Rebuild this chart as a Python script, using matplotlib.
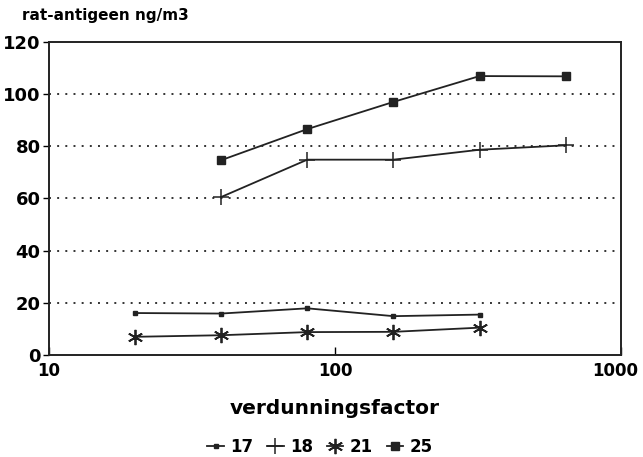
import matplotlib
matplotlib.use("Agg")
import matplotlib.pyplot as plt
import matplotlib.transforms as mtransforms

plt.rcParams['font.family'] = ['DejaVu Sans']
plt.rcParams['font.weight'] = 'bold'

# verdunningsfactor per reeks
x_low = [20, 40, 80, 160, 320]
x_high = [40, 80, 160, 320, 640]

s17 = [16.1, 15.9, 17.9, 14.9, 15.5]
s18 = [60.5, 74.8, 74.8, 78.6, 80.3]
s21 = [7.0, 7.6, 8.8, 8.9, 10.5]
s25 = [74.6, 86.5, 96.9, 106.8, 106.7]

fig = plt.figure(figsize=(6.43, 4.57), dpi=100)
ax = fig.add_axes([0.076, 0.223, 0.890, 0.686])

for y in [20, 40, 60, 80, 100]:
    ax.axhline(y, color="#333333", lw=1.4, ls=(0, (1, 3.2)), zorder=1)

ax.plot(x_low, s17, "-", color="#222222", lw=1.3, marker="s", ms=3, label="17")
ax.plot(x_high, s18, "-", color="#222222", lw=1.3, marker="+", ms=12, mew=1.1, label="18")
ax.plot(x_low, s21, "-", color="#222222", lw=1.3, marker=(6, 2, 0), ms=11, mew=1.3, label="21")
ax.plot(x_high, s25, "-", color="#222222", lw=1.3, marker="s", ms=6, label="25")

ax.set_xscale("log")
ax.set_xlim(10, 1000)
ax.set_ylim(0, 120)
ax.set_xticks([10, 100, 1000])
ax.set_xticklabels(["10", "100", "1000"])
ax.xaxis.set_minor_locator(matplotlib.ticker.NullLocator())
ax.set_yticks([0, 20, 40, 60, 80, 100, 120])
ax.tick_params(axis="x", direction="in", length=6, width=1, pad=5, labelsize=12)
ax.tick_params(axis="y", direction="out", length=4, width=1, pad=2, labelsize=13)
for lab in ax.get_xticklabels() + ax.get_yticklabels():
    lab.set_fontweight("heavy")
for sp in ax.spines.values():
    sp.set_linewidth(1.4)
    sp.set_color("#222222")

# shift "1000" a little inwards so it stays on the page
last = ax.get_xticklabels()[-1]
last.set_transform(last.get_transform() + mtransforms.ScaledTranslation(-4 / 72, 0, fig.dpi_scale_trans))

fig.text(0.034, 0.965, "rat-antigeen ng/m3", fontsize=11, fontweight="heavy", va="center")
ax.set_xlabel("verdunningsfactor", fontsize=14.5, fontweight="heavy", labelpad=14)

ax.legend(loc="center", bbox_to_anchor=(0.474, -0.293), ncol=4, frameon=False,
          handlelength=1.0, handletextpad=0.4, columnspacing=0.8,
          prop={"weight": "heavy", "size": 12})

fig.savefig("out.png", dpi=100)
